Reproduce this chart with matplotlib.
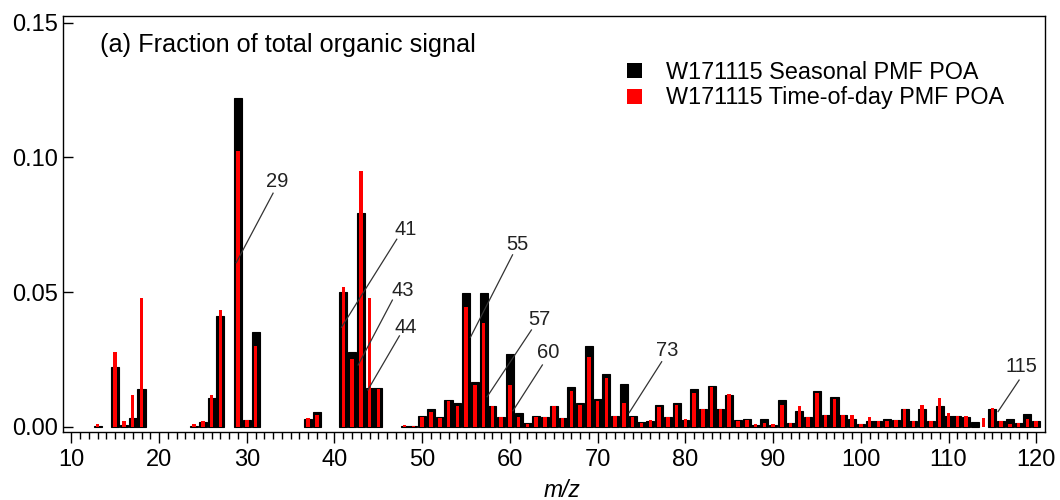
import matplotlib
matplotlib.use('Agg')
import matplotlib.pyplot as plt
from matplotlib.patches import Patch
import numpy as np

plt.rcParams['font.family'] = ['Liberation Sans', 'DejaVu Sans']

# Data: m/z 12..120, fraction of total organic signal
mz = np.arange(12, 121)
seasonal = [
    0, 0.0003, 0, 0.0220, 0.0005, 0.0033, 0.0140, 0, 0,            # 12-20
    0, 0, 0, 0.0004, 0.0016, 0.0106, 0.0410, 0, 0.1222, 0.0023,     # 21-30
    0.0351, 0, 0, 0, 0, 0, 0.0027, 0.0053, 0, 0,                    # 31-40
    0.0500, 0.0278, 0.0793, 0.0144, 0.0144, 0, 0, 0.0003, 0.0004, 0.0038,  # 41-50
    0.0065, 0.0036, 0.0098, 0.0088, 0.0497, 0.0164, 0.0497, 0.0076, 0.0035, 0.0270,  # 51-60
    0.0051, 0.0012, 0.0039, 0.0035, 0.0076, 0.0032, 0.0149, 0.0086, 0.0298, 0.0104,  # 61-70
    0.0197, 0.0039, 0.0160, 0.0041, 0.0019, 0.0020, 0.0080, 0.0035, 0.0086, 0.0025,  # 71-80
    0.0141, 0.0066, 0.0151, 0.0066, 0.0116, 0.0024, 0.0028, 0.0006, 0.0028, 0.0006,  # 81-90
    0.0099, 0.0015, 0.0057, 0.0035, 0.0134, 0.0044, 0.0111, 0.0044, 0.0027, 0.0010,  # 91-100
    0.0022, 0.0022, 0.0030, 0.0024, 0.0065, 0.0022, 0.0065, 0.0022, 0.0075, 0.0040,  # 101-110
    0.0040, 0.0035, 0.0016, 0.0000, 0.0065, 0.0022, 0.0027, 0.0012, 0.0047, 0.0022,  # 111-120
]
timeofday = [
    0, 0.0009, 0, 0.0278, 0.0022, 0.0118, 0.0476, 0, 0,
    0, 0, 0, 0.0008, 0.0020, 0.0118, 0.0432, 0, 0.1023, 0.0023,
    0.0300, 0, 0, 0, 0, 0, 0.0031, 0.0043, 0, 0,
    0.0518, 0.0252, 0.0948, 0.0476, 0.0141, 0, 0, 0.0006, 0.0002, 0.0036,
    0.0056, 0.0032, 0.0094, 0.0078, 0.0446, 0.0154, 0.0386, 0.0075, 0.0035, 0.0154,
    0.0035, 0.0010, 0.0036, 0.0035, 0.0076, 0.0032, 0.0132, 0.0082, 0.0257, 0.0094,
    0.0182, 0.0039, 0.0089, 0.0035, 0.0015, 0.0026, 0.0074, 0.0035, 0.0082, 0.0027,
    0.0126, 0.0066, 0.0149, 0.0066, 0.0120, 0.0020, 0.0024, 0.0008, 0.0015, 0.0008,
    0.0079, 0.0015, 0.0075, 0.0034, 0.0126, 0.0044, 0.0104, 0.0044, 0.0044, 0.0010,
    0.0037, 0.0022, 0.0020, 0.0025, 0.0065, 0.0022, 0.0080, 0.0020, 0.0105, 0.0050,
    0.0040, 0.0040, 0.0000, 0.0032, 0.0068, 0.0020, 0.0010, 0.0012, 0.0027, 0.0022,
]

# labelled peaks: (label, text position, line start, line end) in data coords
labels = ['29', '41', '43', '44', '55', '57', '60', '73', '115']
label_xy = [(33.5, 0.0909), (48.1, 0.0733), (47.75, 0.0504), (48.1, 0.0370),
            (60.8, 0.0678), (63.4, 0.0399), (64.35, 0.0276), (77.9, 0.0282),
            (118.3, 0.0223)]
line_from = [(33.0, 0.0867), (47.1, 0.0696), (46.6, 0.0470), (47.4, 0.0337),
             (60.3, 0.0638), (62.45, 0.0359), (63.7, 0.0229), (77.3, 0.0241),
             (118.05, 0.0173)]
line_to = [(28.8, 0.0609), (40.8, 0.0369), (42.7, 0.0229), (43.8, 0.0136),
           (55.5, 0.0332), (57.4, 0.0111), (60.35, 0.0059), (73.6, 0.0052),
           (115.65, 0.0056)]

fig = plt.figure(figsize=(10.6, 5.0), dpi=100)
ax = fig.add_axes([63 / 1060, 1 - 432.3 / 500, 982 / 1060, 416.3 / 500])

s = np.array(seasonal)
t = np.array(timeofday)
ax.bar(mz[s > 0], s[s > 0], width=0.92, color='black', edgecolor='black', linewidth=0.8)
ax.bar(mz[t > 0], t[t > 0], width=0.4, color='#ff0000', linewidth=0)

for lab, txy, p0, p1 in zip(labels, label_xy, line_from, line_to):
    ax.plot([p0[0], p1[0]], [p0[1], p1[1]], color='#333333', lw=0.9)
    ax.text(txy[0], txy[1], lab, ha='center', va='center', fontsize=14.5,
            color='#222222')

ax.set_xlim(9.05, 121.0)
ax.set_ylim(-0.0021, 0.1525)
ax.set_xticks(np.arange(10, 121, 10))
ax.set_xticks(np.arange(10, 121, 1), minor=True)
ax.set_yticks([0, 0.05, 0.10, 0.15])
ax.set_yticklabels(['0.00', '0.05', '0.10', '0.15'])
ax.tick_params(axis='x', which='major', direction='out', length=8, width=1,
               labelsize=17, pad=4)
ax.tick_params(axis='x', which='minor', direction='out', length=5, width=1)
ax.tick_params(axis='y', which='major', direction='in', length=7, width=1,
               labelsize=17, pad=3.5)
for sp in ax.spines.values():
    sp.set_linewidth(1)

ax.set_xlabel('m/z', fontsize=16.5, style='italic')
ax.xaxis.set_label_coords(0.508, -0.112)

ax.text(0.0376, 0.9296, '(a) Fraction of total organic signal', transform=ax.transAxes,
        ha='left', va='center', fontsize=18.2)

handles = [Patch(facecolor='black', edgecolor='none'),
           Patch(facecolor='#ff0000', edgecolor='none')]
ax.legend(handles, ['W171115 Seasonal PMF POA', 'W171115 Time-of-day PMF POA'],
          loc='upper left', bbox_to_anchor=(0.5747, 0.892), frameon=False,
          fontsize=16.8, handlelength=0.62, handleheight=0.62, handletextpad=1.05,
          labelspacing=0.1, borderpad=0, borderaxespad=0)

fig.savefig('out.png', dpi=100)
